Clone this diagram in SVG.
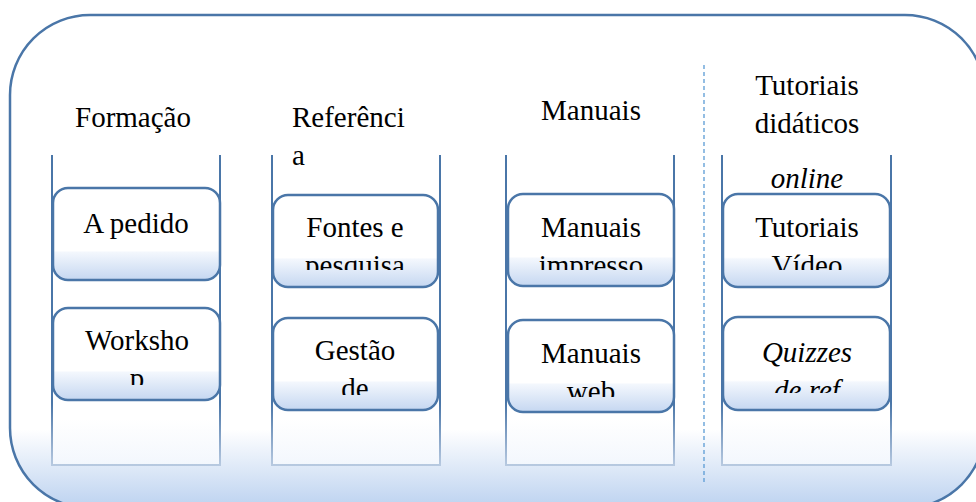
<svg xmlns="http://www.w3.org/2000/svg" width="976" height="502" viewBox="0 0 976 502">
<defs>
<linearGradient id="outerG" x1="0" y1="0" x2="0" y2="1">
<stop offset="0" stop-color="#ffffff"/>
<stop offset="0.84" stop-color="#ffffff"/>
<stop offset="1" stop-color="#bcd2f0"/>
</linearGradient>
<linearGradient id="colFill" x1="0" y1="0" x2="0" y2="1">
<stop offset="0" stop-color="#ffffff"/>
<stop offset="0.85" stop-color="#ffffff"/>
<stop offset="1" stop-color="#f3f7fd"/>
</linearGradient>
<linearGradient id="colStroke" x1="0" y1="0" x2="0" y2="1">
<stop offset="0" stop-color="#4a76a8"/>
<stop offset="0.8" stop-color="#4a76a8"/>
<stop offset="1" stop-color="#b7c9e0"/>
</linearGradient>
<linearGradient id="boxG" x1="0" y1="0" x2="0" y2="1">
<stop offset="0" stop-color="#ffffff"/>
<stop offset="0.68" stop-color="#ffffff"/>
<stop offset="0.7" stop-color="#f3f7fd"/>
<stop offset="1" stop-color="#c5d7f1"/>
</linearGradient>
<clipPath id="c1b2" clipPathUnits="userSpaceOnUse"><rect x="53" y="308" width="167" height="77"/></clipPath>
<clipPath id="c2b1" clipPathUnits="userSpaceOnUse"><rect x="273" y="195" width="165" height="75"/></clipPath>
<clipPath id="c2b2" clipPathUnits="userSpaceOnUse"><rect x="273" y="318" width="165" height="77"/></clipPath>
<clipPath id="c3b1" clipPathUnits="userSpaceOnUse"><rect x="508" y="194" width="166" height="76"/></clipPath>
<clipPath id="c3b2" clipPathUnits="userSpaceOnUse"><rect x="508" y="320" width="166" height="77"/></clipPath>
<clipPath id="c4b1" clipPathUnits="userSpaceOnUse"><rect x="723" y="194" width="167" height="76"/></clipPath>
<clipPath id="c4b2" clipPathUnits="userSpaceOnUse"><rect x="723" y="317" width="167" height="76"/></clipPath>
</defs>
<style>
.t{font-family:"Liberation Serif","Times New Roman",serif;font-size:29px;fill:#000;}
.m{text-anchor:middle;}
.i{font-style:italic;}
.col{fill:url(#colFill);stroke:none;}
.colf{fill:none;stroke:url(#colStroke);stroke-width:2;}
.box{fill:url(#boxG);stroke:#4a76a8;stroke-width:2.5;}
</style>
<g id="background">
<rect x="10" y="15" width="975" height="493" rx="80" ry="80" fill="url(#outerG)" stroke="#4a76a8" stroke-width="2.5"/>
</g>
<g id="connectors">
<line x1="704" y1="65" x2="704" y2="484" stroke="#5b9bd5" stroke-width="1.3" stroke-dasharray="4 3"/>
</g>
<g id="col-formacao">
<rect class="col" x="52" y="155" width="168" height="310"/>
<path class="colf" d="M52,155 V465 H220 V155"/>
<text class="t m" x="133" y="127">Formação</text>
</g>
<g id="col-referencia">
<rect class="col" x="272" y="155" width="168" height="310"/>
<path class="colf" d="M272,155 V465 H440 V155"/>
<text class="t" x="292" y="127">Referênci</text>
<text class="t" x="292" y="165">a</text>
</g>
<g id="col-manuais">
<rect class="col" x="506" y="155" width="168" height="310"/>
<path class="colf" d="M506,155 V465 H674 V155"/>
<text class="t m" x="591" y="120">Manuais</text>
</g>
<g id="col-tutoriais">
<rect class="col" x="722" y="155" width="169" height="310"/>
<path class="colf" d="M722,155 V465 H891 V155"/>
<text class="t m" x="807" y="95">Tutoriais</text>
<text class="t m" x="807" y="133">didáticos</text>
<text class="t m i" x="807" y="188">online</text>
</g>
<g id="box-a-pedido">
<rect class="box" x="53" y="188" width="167" height="92" rx="15"/>
<text class="t m" x="136" y="233">A pedido</text>
</g>
<g id="box-workshop">
<rect class="box" x="53" y="308" width="167" height="92" rx="15"/>
<g clip-path="url(#c1b2)">
<text class="t m" x="137" y="350">Worksho</text>
<text class="t m" x="137" y="388">p</text>
</g>
</g>
<g id="box-fontes">
<rect class="box" x="273" y="195" width="165" height="92" rx="15"/>
<g clip-path="url(#c2b1)">
<text class="t m" x="355" y="237">Fontes e</text>
<text class="t m" x="355" y="275">pesquisa</text>
</g>
</g>
<g id="box-gestao">
<rect class="box" x="273" y="318" width="165" height="92" rx="15"/>
<g clip-path="url(#c2b2)">
<text class="t m" x="355" y="360">Gestão</text>
<text class="t m" x="355" y="398">de</text>
</g>
</g>
<g id="box-manuais-impressos">
<rect class="box" x="508" y="194" width="166" height="92" rx="15"/>
<g clip-path="url(#c3b1)">
<text class="t m" x="591" y="237">Manuais</text>
<text class="t m" x="591" y="275">impresso</text>
</g>
</g>
<g id="box-manuais-web">
<rect class="box" x="508" y="320" width="166" height="92" rx="15"/>
<g clip-path="url(#c3b2)">
<text class="t m" x="591" y="363">Manuais</text>
<text class="t m" x="591" y="401">web</text>
</g>
</g>
<g id="box-tutoriais-video">
<rect class="box" x="723" y="194" width="167" height="93" rx="15"/>
<g clip-path="url(#c4b1)">
<text class="t m" x="807" y="237">Tutoriais</text>
<text class="t m" x="807" y="275">Vídeo</text>
</g>
</g>
<g id="box-quizzes">
<rect class="box" x="723" y="317" width="167" height="93" rx="15"/>
<g clip-path="url(#c4b2)">
<text class="t m i" x="807" y="362">Quizzes</text>
<text class="t m i" x="807" y="400">de ref</text>
</g>
</g>
</svg>
